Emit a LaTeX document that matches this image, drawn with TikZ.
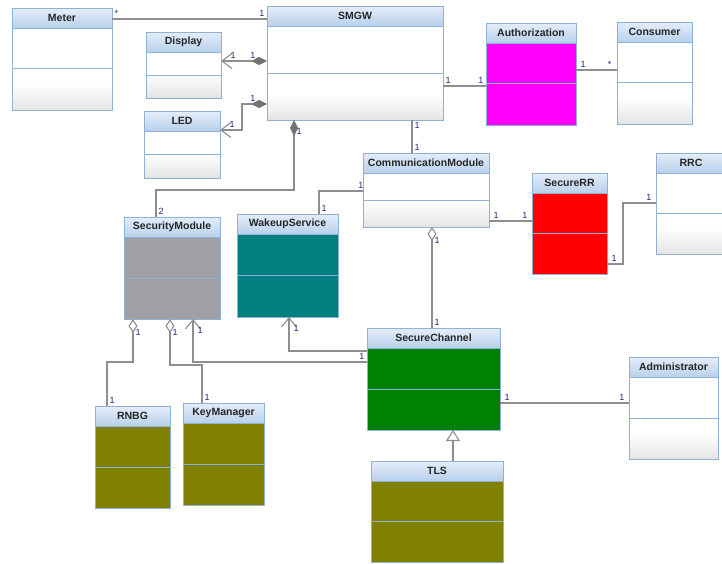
\documentclass[tikz,border=0pt]{standalone}
\usepackage{fontspec}
\setmainfont{Liberation Sans}
\usetikzlibrary{calc,arrows.meta,positioning}
\definecolor{headtop}{HTML}{E3EDF9}
\definecolor{headbot}{HTML}{BBD2EC}
\definecolor{boxline}{HTML}{8FB1D6}
\definecolor{linegray}{HTML}{8E8E8E}
\definecolor{multblue}{HTML}{24247A}
\definecolor{authfill}{HTML}{FF00FF}
\definecolor{rrfill}{HTML}{FF0000}
\definecolor{smfill}{HTML}{A0A0A4}
\definecolor{wsfill}{HTML}{008080}
\definecolor{scfill}{HTML}{008000}
\definecolor{olivefill}{HTML}{808000}
\def\multfont{\fontsize{9}{10}\selectfont}
\def\titlefont{\fontsize{10.5}{12}\selectfont\bfseries}
\tikzset{
	classbox/.style={anchor=north west, inner sep=0pt, outer sep=0pt, draw=boxline, line width=0.9pt},
	whitebox/.style={fill=white, path picture={
		\foreach \k [evaluate=\k as \g using 10-0.8*\k] in {0,...,11}
			\fill[black!\g] ($(path picture bounding box.south west)+(0,-2*\k)$) rectangle ($(path picture bounding box.south east)+(0,-2*\k-2.1)$);
	}},
	boxrule/.style={draw=boxline, line width=0.9pt},
	classtitle/.style={font=\titlefont, text=black!85, inner sep=0pt},
	mult/.style={font=\multfont, text=multblue, inner sep=2pt},
	assoc/.style={draw=linegray, line width=1.1pt},
	navassoc/.style={assoc, arrows={-Straight Barb[length=9pt,width=15pt]}},
	navcomp/.style={assoc, arrows={Straight Barb[length=10pt,width=15pt]-Diamond[length=16pt,width=8pt,color=black!55]}},
	comp/.style={assoc, arrows={-Diamond[length=16pt,width=8pt,color=black!55]}},
	aggr/.style={assoc, arrows={-Diamond[length=14pt,width=9pt,fill=white]}},
	gen/.style={assoc, arrows={-Triangle[length=11pt,width=14pt,fill=white]}}
}
\def\umlclass[#1](#2)(#3,#4)(#5:#6:#7)#8{%
	\node[classbox, #1, minimum width=#5pt, minimum height=#6pt] (#2) at (#3,#4) {};
	\foreach \k [evaluate=\k as \p using 11*\k] in {0,...,9}
		\fill[headbot!\p!headtop] ($(#2.north west)+(0,2*\k)$) rectangle ($(#2.north east)+(0,2*\k+2.1)$);
	\node[classtitle] (#2-title) at ($(#2.north)+(0,10)$) {#8};
	\draw[boxrule] ($(#2.north west)+(0,20)$) -- ($(#2.north east)+(0,20)$);
	\draw[boxrule] ($(#2.north west)+(0,#7)$) -- ($(#2.north east)+(0,#7)$);
	\draw[boxrule] (#2.north west) rectangle (#2.south east);
}

\begin{document}
\begin{tikzpicture}[x=1pt, y=-1pt]
			%%%%% START %%%%%
			\useasboundingbox (0,0) rectangle (722,564);
			
			\umlclass[whitebox](meter)(12,8)(100:102:60){Meter}
			\umlclass[whitebox](display)(146,32)(75:66:43){Display}
			\umlclass[whitebox](led)(144,111)(76:67:43){LED}
			\umlclass[whitebox](smgw)(267,6)(176:114:67){SMGW}
			\umlclass[fill=authfill](auth)(486,23)(90:102:60){Authorization}
			\umlclass[whitebox](consumer)(617,22)(75:102:60){Consumer}
			
			\umlclass[whitebox](comm)(363,153)(126:74:47){CommunicationModule}
			\umlclass[fill=rrfill](securerr)(532,173)(75:101:60){SecureRR}
			\umlclass[whitebox](rrc)(656,153)(70:101:60){RRC}
			\umlclass[fill=smfill](secmod)(124,217)(96:102:61){SecurityModule}
			\umlclass[fill=wsfill](wakeup)(237,214)(101:103:61){WakeupService}
			
			\umlclass[fill=scfill](secchan)(367,328)(133:102:61){SecureChannel}
			\umlclass[whitebox](admin)(629,357)(89:102:61){Administrator}
			\umlclass[fill=olivefill](rnbg)(95,406)(75:102:61){RNBG}
			\umlclass[fill=olivefill](keymgr)(183,403)(81:102:61){KeyManager}
			\umlclass[fill=olivefill](tls)(371,461)(132:101:60){TLS}
			
			% SMGW and its parts
			\draw[assoc] ($(meter.north east)+(0,11)$) coordinate (m1) node[mult, above right] {*} -- (m1 -| smgw.west) node[mult, above left] {1};
			\draw[navcomp] ($(display.north east)+(0,29)$) coordinate (d1) node[mult, above right, xshift=7pt] {1} -- (d1 -| smgw.west) node[mult, above left, xshift=-9pt] {1};
			\draw[navcomp] ($(led.north east)+(0,19)$) node[mult, above right, xshift=7pt] {1} -- ++(22,0) |- ($(smgw.north west)+(0,98)$) node[mult, above left, xshift=-9pt] {1};
			\draw[comp] ($(secmod.north west)+(32,0)$) node[mult, above right] {2} |- ($(smgw.south west)+(27,70)$) -- ($(smgw.south west)+(27,0)$) node[mult, right, yshift=-11pt] {1};
			\draw[assoc] ($(smgw.south west)+(145,0)$) coordinate (s1) node[mult, below right] {1} -- (s1 |- comm.north) node[mult, above right] {1};
			\draw[assoc] ($(smgw.north east)+(0,80)$) coordinate (s2) node[mult, above right] {1} -- (s2 -| auth.west) node[mult, above left] {1};
			\draw[assoc] ($(auth.north east)+(0,47)$) coordinate (a1) node[mult, above right, xshift=2pt] {1} -- (a1 -| consumer.west) node[mult, above left, xshift=-3pt] {*};
			
			% communication
			\draw[assoc] ($(comm.north west)+(0,38)$) node[mult, above left, xshift=3pt] {1} -| ($(wakeup.north west)+(82,0)$) node[mult, above right] {1};
			\draw[assoc] ($(comm.north east)+(0,68)$) coordinate (c2) node[mult, above right, xshift=2pt] {1} -- (c2 -| securerr.west) node[mult, above left, xshift=-2pt] {1};
			\draw[assoc] ($(securerr.north east)+(0,91)$) node[mult, above right, xshift=2pt] {1} -- ++(16,0) |- ($(rrc.north west)+(0,50)$) node[mult, above left, xshift=-2pt] {1};
			\draw[aggr] ($(secchan.north west)+(65,0)$) coordinate (c3) node[mult, above right] {1} -- (c3 |- comm.south) node[mult, right, yshift=-13pt] {1};
			
			% secure channel
			\draw[navassoc] ($(secchan.north west)+(0,23)$) node[mult, below left] {1} -| ($(wakeup.south west)+(52,0)$) node[mult, right, xshift=2pt, yshift=-11pt] {1};
			\draw[navassoc] ($(secchan.north west)+(0,34)$) -| ($(secmod.south west)+(69,0)$) node[mult, right, xshift=2pt, yshift=-11pt] {1};
			\draw[aggr] ($(rnbg.north west)+(12,0)$) node[mult, above right] {1} |- ($(secmod.south west)+(9,43)$) -- ($(secmod.south west)+(9,0)$) node[mult, right, yshift=-13pt] {1};
			\draw[aggr] ($(keymgr.north west)+(19,0)$) node[mult, above right] {1} |- ($(secmod.south west)+(46,46)$) -- ($(secmod.south west)+(46,0)$) node[mult, right, yshift=-13pt] {1};
			\draw[gen] ($(tls.north west)+(82,0)$) coordinate (t1) -- (t1 |- secchan.south);
			\draw[assoc] ($(secchan.north east)+(0,75)$) coordinate (c4) node[mult, above right, xshift=2pt] {1} -- (c4 -| admin.west) node[mult, above left, xshift=-2pt] {1};
			
			%%%%% END %%%%%
\end{tikzpicture}
\end{document}
